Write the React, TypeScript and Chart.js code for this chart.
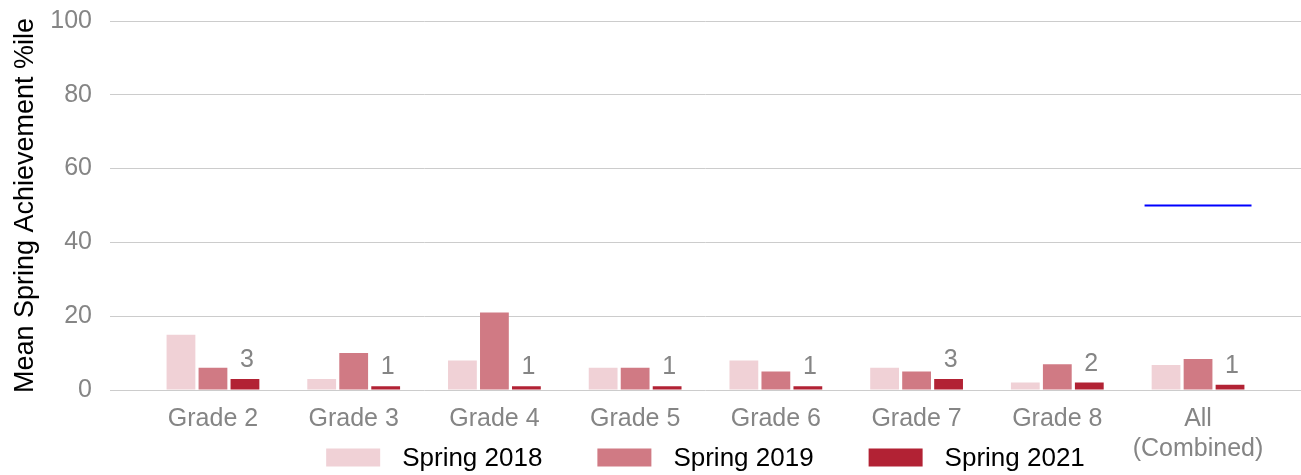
import React, { useEffect, useRef } from "react";
import { Chart, registerables } from "chart.js";

Chart.register(...registerables);

const categories: (string | string[])[] = [
  "Grade 2",
  "Grade 3",
  "Grade 4",
  "Grade 5",
  "Grade 6",
  "Grade 7",
  "Grade 8",
  ["All", "(Combined)"],
];
const seriesNames = ["Spring 2018", "Spring 2019", "Spring 2021"];
const spring2018 = [15, 3, 8, 6, 8, 6, 2, 6.8];
const spring2019 = [6, 10, 21, 6, 5, 5, 7, 8.4];
const spring2021 = [3, 1, 1, 1, 1, 3, 2, 1.4];
const seriesColors = ["#f0d1d6", "#d07a84", "#b22234"];
const yMin = 0;
const yMax = 100;
const yStep = 20;
const referenceValue = 50;
const referenceCategory = 7;
const referenceHalfSpan = 0.38;

const FONT = "'Liberation Sans', Arial, sans-serif";
const GRAY = "#858585";
const GRID = "#cccccc";

const valueLabelPlugin = {
  id: "valueLabels",
  afterDatasetsDraw(chart: any) {
    const meta = chart.getDatasetMeta(2);
    const ctx = chart.ctx;
    ctx.save();
    ctx.font = `25px ${FONT}`;
    ctx.fillStyle = GRAY;
    ctx.textAlign = "center";
    ctx.textBaseline = "alphabetic";
    meta.data.forEach((bar: any, i: number) => {
      ctx.fillText(String(Math.round(spring2021[i])), bar.x + 2, bar.y - 12);
    });
    ctx.restore();
  },
};

const referenceLinePlugin = {
  id: "referenceLine",
  afterDatasetsDraw(chart: any) {
    const x = chart.scales.x;
    const y = chart.scales.y;
    const catW = x.width / categories.length;
    const cx = x.getPixelForValue(referenceCategory);
    const py = y.getPixelForValue(referenceValue);
    const ctx = chart.ctx;
    ctx.save();
    ctx.strokeStyle = "#0000ff";
    ctx.lineWidth = 2;
    ctx.beginPath();
    ctx.moveTo(cx - referenceHalfSpan * catW, py);
    ctx.lineTo(cx + referenceHalfSpan * catW, py);
    ctx.stroke();
    ctx.restore();
  },
};

const legendPlugin = {
  id: "customLegend",
  afterDraw(chart: any) {
    const ctx = chart.ctx;
    const area = chart.chartArea;
    ctx.save();
    ctx.font = `26px ${FONT}`;
    const boxW = 54;
    const boxH = 18;
    const gap = 22;
    const itemGap = 55;
    const widths = seriesNames.map((n) => boxW + gap + ctx.measureText(n).width);
    const total = widths.reduce((a, b) => a + b, 0) + itemGap * (seriesNames.length - 1);
    let x = (area.left + area.right) / 2 - total / 2;
    const baseline = 466;
    seriesNames.forEach((name, i) => {
      ctx.fillStyle = seriesColors[i];
      ctx.fillRect(x, baseline - boxH + 0.5, boxW, boxH);
      ctx.fillStyle = "#000000";
      ctx.textAlign = "left";
      ctx.textBaseline = "alphabetic";
      ctx.fillText(name, x + boxW + gap, baseline);
      x += widths[i] + itemGap;
    });
    ctx.restore();
  },
};

export default function App() {
  const ref = useRef<HTMLCanvasElement | null>(null);

  useEffect(() => {
    if (!ref.current) return;
    Chart.defaults.font.family = FONT;
    const barOpts = { categoryPercentage: 0.682, barPercentage: 0.9, grouped: true };
    const chart = new Chart(ref.current, {
      type: "bar",
      data: {
        labels: categories as any,
        datasets: seriesNames.map((name, i) => ({
          label: name,
          data: [spring2018, spring2019, spring2021][i],
          backgroundColor: seriesColors[i],
          ...barOpts,
        })),
      },
      options: {
        responsive: false,
        animation: false,
        layout: { padding: { top: 21, bottom: 0, left: 0, right: 0 } },
        plugins: {
          legend: { display: false },
          tooltip: { enabled: false },
        },
        scales: {
          x: {
            type: "category",
            offset: true,
            grid: { display: false, drawTicks: false },
            border: { display: false },
            ticks: {
              color: GRAY,
              font: { size: 25, family: FONT },
              padding: 14,
              maxRotation: 0,
              autoSkip: false,
            },
            afterFit: (axis: any) => {
              axis.height = 85;
            },
          },
          y: {
            position: "left",
            min: yMin,
            max: yMax,
            ticks: {
              stepSize: yStep,
              color: GRAY,
              font: { size: 25, family: FONT },
              padding: 18,
            },
            grid: {
              color: GRID,
              lineWidth: 1,
              drawTicks: true,
              tickLength: 32.6,
            },
            border: { display: false },
            title: {
              display: true,
              text: "Mean Spring Achievement %ile",
              color: "#000000",
              font: { size: 27, family: FONT },
              padding: { top: 9, bottom: 0 },
            },
            afterFit: (axis: any) => {
              axis.width = 142.6;
              axis.paddingTop = 0;
              axis.paddingBottom = 0;
            },
          },
          y2: {
            position: "right",
            min: yMin,
            max: yMax,
            ticks: { stepSize: yStep, display: false },
            grid: {
              color: GRID,
              lineWidth: 1,
              drawOnChartArea: false,
              drawTicks: true,
              tickLength: 32.6,
            },
            border: { display: false },
            afterFit: (axis: any) => {
              axis.width = 32.6;
              axis.paddingTop = 0;
              axis.paddingBottom = 0;
            },
          },
        },
      },
      plugins: [valueLabelPlugin, referenceLinePlugin, legendPlugin],
    });
    return () => chart.destroy();
  }, []);

  return (
    <div style={{ position: "absolute", left: 0, top: 0, width: 1301, height: 475, background: "#fff" }}>
      <canvas ref={ref} width={1301} height={475} style={{ display: "block" }} />
    </div>
  );
}
